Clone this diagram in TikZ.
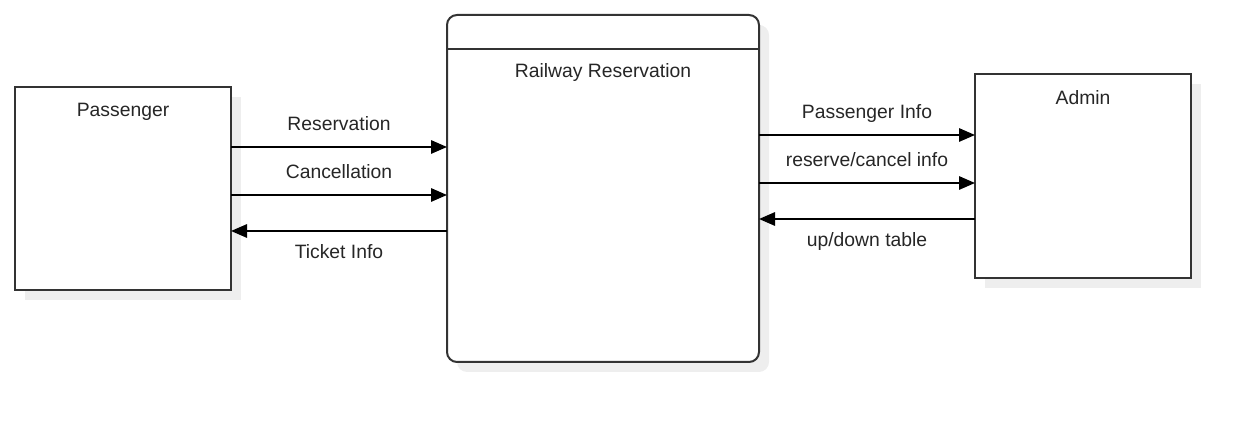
\documentclass[tikz,border=0pt]{standalone}
\usepackage{fontspec}
\setmainfont{Liberation Sans}
\usetikzlibrary{arrows.meta,shadows,positioning}
\definecolor{boxline}{HTML}{333333}
\definecolor{shade}{HTML}{EEEEEE}

\begin{document}
\begin{tikzpicture}[x=0.75pt,y=-0.75pt,
	every node/.style={font=\fontsize{14.5}{17}\selectfont, text=black!85, text height=10pt, text depth=3pt},
	box/.style={draw=boxline, line width=1.5pt, fill=white, inner sep=0pt, outer sep=0pt,
		drop shadow={shadow xshift=7.5pt, shadow yshift=-7.5pt, fill=shade, opacity=1}},
	flow/.style={line width=1.5pt, -{Triangle[length=12pt,width=10pt]}}]
	
	\useasboundingbox (0,0) rectangle (1251,423);
	
	% boxes
	\node[box, minimum width=162pt, minimum height=152.25pt] (pass) at (123,188.5) {};
	\node[box, rounded corners=7.5pt, minimum width=234pt, minimum height=260.25pt] (rail) at (603,188.5) {};
	\node[box, minimum width=162pt, minimum height=153pt] (admin) at (1083,176.5) {};
	
	\draw[boxline, line width=1.5pt] (rail.west |- 0,49) -- (rail.east |- 0,49);
	
	\node (passtitle) at ([yshift=-18.75pt]pass.north) {Passenger};
	\node (railtitle) at (603,73) {Railway Reservation};
	\node (admintitle) at ([yshift=-18.75pt]admin.north) {Admin};
	
	% passenger side
	\draw[flow] (pass.east |- 0,147) -- node[yshift=16pt] (res) {Reservation} (rail.west |- 0,147);
	\draw[flow] (pass.east |- 0,195) -- node[yshift=16pt] (can) {Cancellation} (rail.west |- 0,195);
	\draw[flow] (rail.west |- 0,231) -- node[yshift=-17.5pt] (tick) {Ticket Info} (pass.east |- 0,231);
	
	% admin side
	\draw[flow] (rail.east |- 0,135) -- node[yshift=16pt] (pinfo) {Passenger Info} (admin.west |- 0,135);
	\draw[flow] (rail.east |- 0,183) -- node[yshift=16pt] (rcinfo) {reserve/cancel info} (admin.west |- 0,183);
	\draw[flow] (admin.west |- 0,219) -- node[yshift=-17.5pt] (table) {up/down table} (rail.east |- 0,219);
	
\end{tikzpicture}
\end{document}
